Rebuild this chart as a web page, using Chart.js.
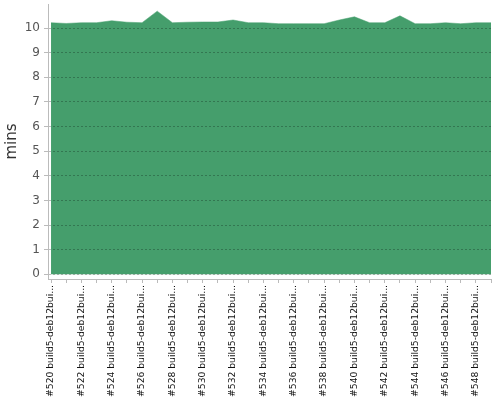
<!DOCTYPE html>
<html>
<head>
<meta charset="utf-8">
<script src="https://cdn.jsdelivr.net/npm/chart.js@4/dist/chart.umd.min.js"></script>
<style>
    html, body { margin: 0; padding: 0; background: #ffffff; }
    #wrap { width: 500px; height: 400px; }
</style>
</head>
<body>
<div id="wrap"><canvas id="buildTimeChart"></canvas></div>
<script>
// Build numbers and their (truncated) labels as shown on the x axis
const buildNumbers = [520, 521, 522, 523, 524, 525, 526, 527, 528, 529,
                      530, 531, 532, 533, 534, 535, 536, 537, 538, 539,
                      540, 541, 542, 543, 544, 545, 546, 547, 548, 549];
const buildLabels = buildNumbers.map(n => '#' + n + ' build5-deb12bui...');

// Build duration in minutes
const durationMins = [10.22, 10.19, 10.22, 10.22, 10.30, 10.24, 10.22, 10.69, 10.22, 10.24,
                      10.25, 10.25, 10.33, 10.22, 10.22, 10.18, 10.18, 10.18, 10.18, 10.33,
                      10.46, 10.22, 10.22, 10.50, 10.18, 10.18, 10.22, 10.18, 10.22, 10.22];

// Y axis tick values
const yTicks = [0, 1, 2, 3, 4, 5, 6, 7, 8, 9, 10];

const COLORS = {
    fill: '#459e6c',
    axis: '#bbbbbb',
    grid: 'rgba(0, 0, 0, 0.25)',
    tickText: '#555555',
    labelText: '#111111',
    title: '#333333'
};

const FONT = 'DejaVu Sans, Verdana, sans-serif';

const ctx = document.getElementById('buildTimeChart').getContext('2d');
new Chart(ctx, {
    type: 'line',
    data: {
        datasets: [{
            label: 'mins',
            data: durationMins.map((v, i) => ({ x: i, y: v })),
            backgroundColor: COLORS.fill,
            borderColor: COLORS.fill,
            borderWidth: 0.5,
            fill: 'origin',
            tension: 0,
            pointRadius: 0
        }]
    },
    options: {
        responsive: true,
        maintainAspectRatio: false,
        animation: false,
        layout: {
            padding: { top: 4, right: 9, left: 0, bottom: 0 }
        },
        plugins: {
            legend: { display: false },
            tooltip: { enabled: false }
        },
        scales: {
            x: {
                type: 'linear',
                min: -0.2,
                max: buildNumbers.length - 1,
                afterFit: function(scale) {
                    scale.height = 121;
                    scale.paddingLeft = 0;
                    scale.paddingRight = 0;
                },
                afterBuildTicks: function(scale) {
                    scale.ticks = buildNumbers.map((n, i) => ({ value: i }));
                },
                ticks: {
                    autoSkip: false,
                    maxRotation: 90,
                    minRotation: 90,
                    padding: 2,
                    color: COLORS.labelText,
                    font: { family: FONT, size: 9.2 },
                    callback: function(value) {
                        return value % 2 === 0 ? buildLabels[value] : '';
                    }
                },
                grid: {
                    drawOnChartArea: false,
                    tickLength: 4,
                    tickColor: COLORS.axis
                },
                border: { color: COLORS.axis }
            },
            y: {
                min: -0.19,
                max: 10.98,
                afterFit: function(scale) {
                    scale.width = 48;
                    scale.paddingTop = 0;
                    scale.paddingBottom = 0;
                },
                afterBuildTicks: function(scale) {
                    scale.ticks = yTicks.map(v => ({ value: v }));
                },
                ticks: {
                    padding: 4,
                    color: COLORS.tickText,
                    font: { family: FONT, size: 12 }
                },
                // grid drawn over the filled area, as in the original
                grid: {
                    z: 1,
                    color: COLORS.grid,
                    tickLength: 4,
                    tickColor: COLORS.axis,
                    tickBorderDash: []
                },
                border: {
                    z: 1,
                    color: COLORS.axis,
                    dash: [2, 2]
                },
                title: {
                    display: true,
                    text: 'mins',
                    color: COLORS.title,
                    font: { family: FONT, size: 15 },
                    padding: { top: 3, bottom: 0 }
                }
            }
        }
    }
});
</script>
</body>
</html>
